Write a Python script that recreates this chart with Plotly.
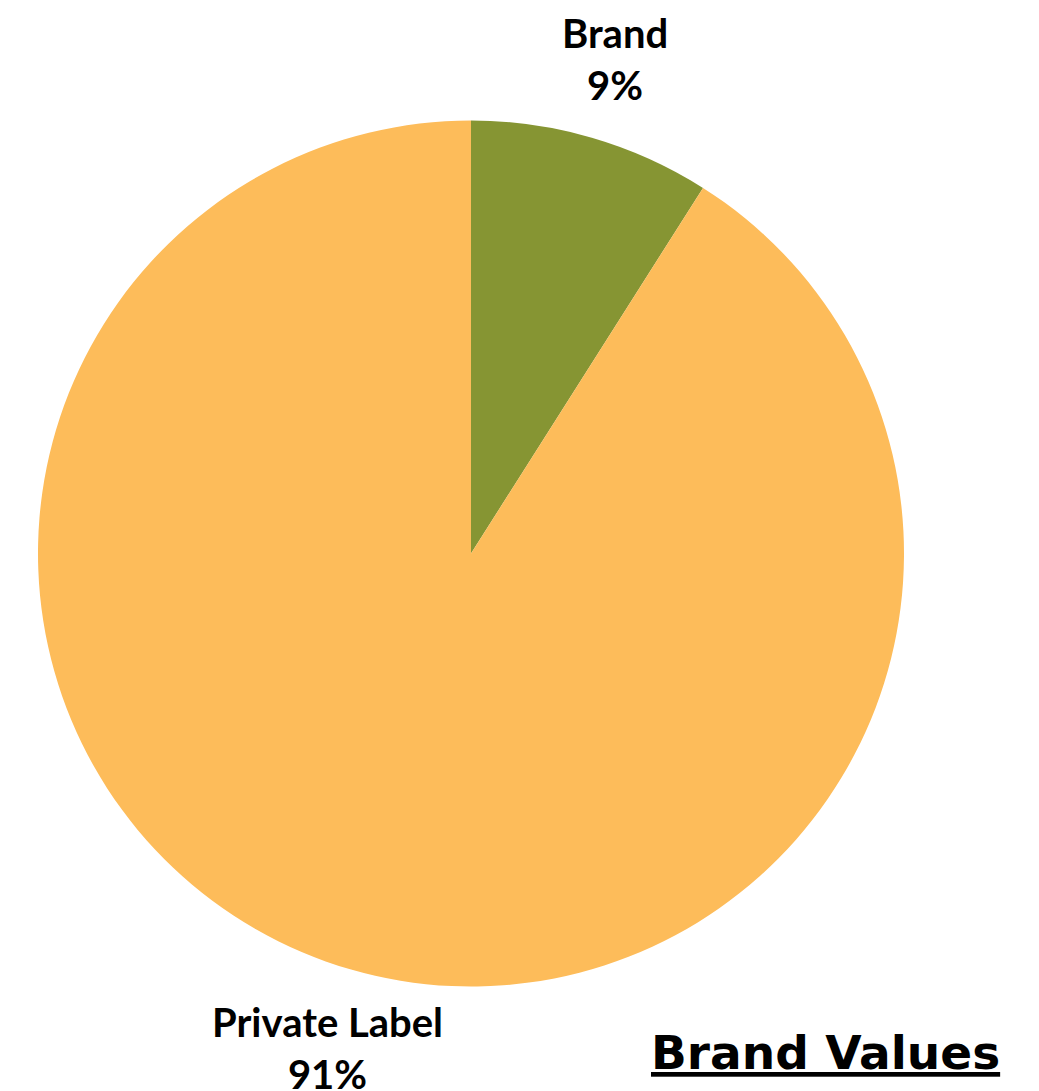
import math
import plotly.graph_objects as go

categories = ["Brand", "Private Label"]
values = [9, 91]
colors = ["#869533", "#FDBC5A"]
title_text = "Brand Values"

W, H = 1039, 1091
cx, cy, r = 471, 553.5, 433
label_r = 515

fig = go.Figure(go.Pie(
    labels=categories,
    values=values,
    sort=False,
    direction="clockwise",
    rotation=0,
    marker=dict(colors=colors, line=dict(width=0)),
    textinfo="none",
    hoverinfo="label+percent",
    showlegend=False,
    domain=dict(x=[(cx - r) / W, (cx + r) / W], y=[1 - (cy + r) / H, 1 - (cy - r) / H]),
))

total = sum(values)
cum = 0
annotations = []
for lab, v in zip(categories, values):
    mid = (cum + v / 2) / total * 2 * math.pi
    cum += v
    px = cx + label_r * math.sin(mid)
    py = cy - label_r * math.cos(mid)
    annotations.append(dict(
        x=px / W, y=1 - py / H, xref="paper", yref="paper",
        text=f"<b>{lab}</b><br><b>{round(v / total * 100)}%</b>",
        showarrow=False, xanchor="center", yanchor="middle",
        font=dict(family="Lato", size=40, color="#000000"),
    ))

annotations.append(dict(
    x=1002 / W, y=1 - 1052 / H, xref="paper", yref="paper",
    text=f"<b><u>{title_text}</u></b>",
    showarrow=False, xanchor="right", yanchor="middle",
    font=dict(family="DejaVu Sans", size=47, color="#000000"),
))

fig.update_layout(
    width=W, height=H,
    margin=dict(l=0, r=0, t=0, b=0),
    paper_bgcolor="white", plot_bgcolor="white",
    annotations=annotations,
)

fig.write_html("out.html")
